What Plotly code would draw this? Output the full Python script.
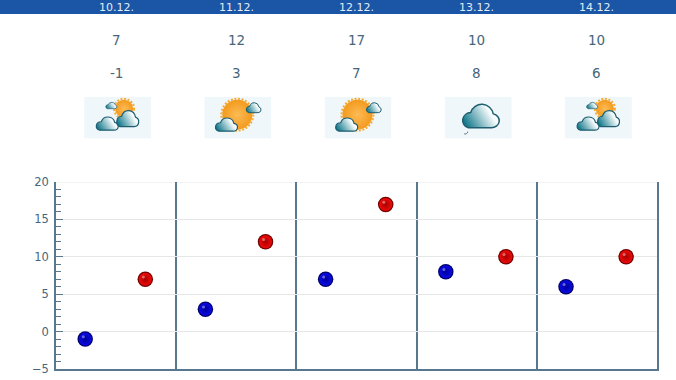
import base64
import plotly.graph_objects as go

dates = ["10.12.", "11.12.", "12.12.", "13.12.", "14.12."]
temp_max = [7, 12, 17, 10, 10]
temp_min = [-1, 3, 7, 8, 6]
icons = ["partly", "sunny", "sunny", "cloud", "partly"]

W, H = 676, 380
L, R, T, B = 56, 657, 181.5, 369
def xp(px): return (px - L) / (R - L)
def yp(py): return (B - py) / (B - T)

TEXT = "#47667c"
LINE = "#58788f"
FONT = "DejaVu Sans"

def cloud(x, y, w, h, sw=1.2):
    return (f'<path d="M{x+.2*w:.1f} {y+h:.1f} H{x+.8*w:.1f} A{.2*w:.1f} {.27*h:.1f} 0 0 0 {x+.85*w:.1f} {y+.47*h:.1f} '
            f'A{.3*w:.1f} {.46*h:.1f} 0 0 0 {x+.27*w:.1f} {y+.42*h:.1f} '
            f'A{.21*w:.1f} {.3*h:.1f} 0 0 0 {x+.2*w:.1f} {y+h:.1f} Z" '
            f'fill="url(#c)" stroke="#1f5d70" stroke-width="{sw}"/>')

def sun(cx, cy, r):
    return (f'<circle cx="{cx}" cy="{cy}" r="{r+1}" fill="none" stroke="#f6ab35" stroke-width="2" stroke-dasharray="2 1.6"/>'
            f'<circle cx="{cx}" cy="{cy}" r="{r}" fill="url(#s)"/>')

def icon_svg(kind):
    if kind == "partly":
        body = sun(40, 12, 9) + cloud(21, 5, 12, 7, .7) + cloud(11, 19, 23, 14.5) + cloud(31, 12, 24, 18)
    elif kind == "sunny":
        body = sun(33, 18, 15) + cloud(41, 5, 16, 11, 1) + cloud(10, 20, 23, 14.5)
    else:
        body = cloud(15.5, 5, 39, 26, 1.5) + '<path d="M23 35 a2.5 2.5 0 0 1 -3.5 2.2" fill="none" stroke="#5b6b70" stroke-width="1"/>'
    svg = ('<svg xmlns="http://www.w3.org/2000/svg" width="67" height="42" viewBox="0 0 67 42">'
           '<defs><linearGradient id="c" x1="0" y1="0.7" x2="1" y2="0.3">'
           '<stop offset="0" stop-color="#0f7689"/><stop offset=".75" stop-color="#f4fafb"/><stop offset="1" stop-color="#ffffff"/></linearGradient>'
           '<radialGradient id="s"><stop offset="0" stop-color="#fdbb55"/><stop offset="1" stop-color="#f39a1d"/></radialGradient></defs>'
           f'<rect width="67" height="42" fill="#eff7fb"/>{body}</svg>')
    return "data:image/svg+xml;base64," + base64.b64encode(svg.encode()).decode()

centers = [i + 0.5 for i in range(len(dates))]
fig = go.Figure()

def balls(xs, ys, color, edge):
    fig.add_trace(go.Scatter(x=xs, y=ys, mode="markers", showlegend=False, hoverinfo="skip",
        marker=dict(size=15.5, color=edge, line=dict(width=0))))
    fig.add_trace(go.Scatter(x=xs, y=ys, mode="markers", showlegend=False, hoverinfo="skip",
        marker=dict(size=13, color=color[0], gradient=dict(type="radial", color=color[1]), line=dict(width=0))))
    fig.add_trace(go.Scatter(x=[x - 0.016 for x in xs], y=[y + 0.3 for y in ys], mode="markers",
        showlegend=False, hoverinfo="skip",
        marker=dict(size=3, color="rgba(255,255,255,0.4)", line=dict(width=0))))

balls([i + 0.243 for i in range(5)], temp_min, ("#0a0ae6", "#00009a"), "#00006a")
balls([i + 0.743 for i in range(5)], temp_max, ("#f00a0a", "#a80000"), "#700000")

shapes = [dict(type="rect", xref="paper", yref="paper", x0=xp(-2), x1=xp(W + 2), y0=yp(13), y1=yp(-2),
               fillcolor="#1b55a6", line=dict(width=0), layer="below"),
          dict(type="line", xref="paper", yref="y", x0=0, x1=1, y0=20, y1=20,
               line=dict(color="#e6e8e8", width=1.2), layer="below")]

ann = []
for c, d, hi, lo in zip(centers, dates, temp_max, temp_min):
    for txt, py, size, col in [(d, 7, 11, "#e4ecf6"), (str(hi), 39.5, 13.5, TEXT), (str(lo), 72, 13.5, TEXT)]:
        ann.append(dict(x=c, xref="x", y=yp(py), yref="paper", text=txt, showarrow=False,
                        xanchor="center", yanchor="middle", font=dict(family=FONT, size=size, color=col)))

images = [dict(source=icon_svg(k), xref="x", yref="paper", x=c + 1.5 / 120.2, y=yp(117), sizex=67 / 120.2, sizey=42 / 187.5,
               xanchor="center", yanchor="middle", sizing="stretch", layer="above")
          for c, k in zip(centers, icons)]

fig.update_layout(
    width=W, height=H, autosize=False, paper_bgcolor="white", plot_bgcolor="white",
    margin=dict(l=L, r=W - R, t=T, b=H - B, pad=0, autoexpand=False), showlegend=False,
    shapes=shapes, annotations=ann, images=images,
    xaxis=dict(range=[0, 5], dtick=1, tick0=0, showticklabels=False, ticks="", showgrid=True, automargin=False,
               gridcolor=LINE, gridwidth=1.6, zeroline=False, showline=True, linecolor=LINE,
               linewidth=1.5, fixedrange=True),
    yaxis=dict(range=[-5, 20], dtick=5, tick0=-5, ticks="inside", ticklen=7, tickwidth=1, tickcolor=LINE, automargin=False,
               minor=dict(dtick=1, ticks="inside", ticklen=5, tickwidth=1, tickcolor=LINE, showgrid=False),
               showgrid=True, gridcolor="#e6e8e8", gridwidth=1.2, zeroline=False, showline=True, mirror=True,
               linecolor=LINE, linewidth=1.5, fixedrange=True,
               tickfont=dict(family=FONT, size=11.5, color=TEXT), ticklabelstandoff=3),
)
fig.write_html("out.html", config=dict(displayModeBar=False),
               post_script="document.body.style.margin='0';document.body.style.overflow='hidden';")
